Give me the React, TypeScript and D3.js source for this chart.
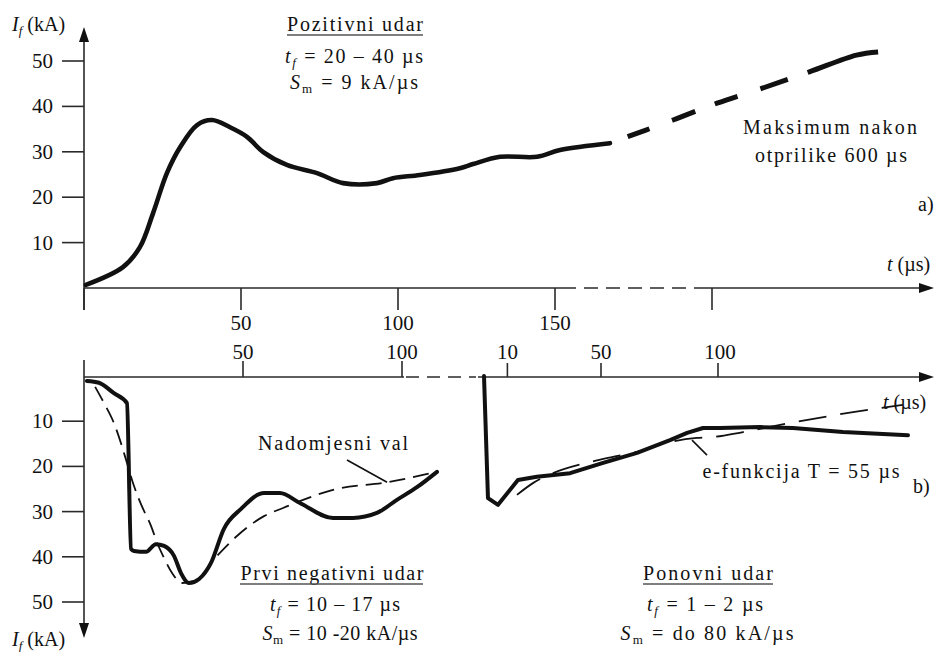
import React from "react";
import * as d3 from "d3";

// ---------- data ----------
// a) positive stroke (t in µs, I in kA)
const posT = [0.6, 12.4, 17.8, 22, 26.4, 30.6, 36, 40.8, 46.5, 51.9, 57, 64.6, 74.2, 82.5, 93.3, 98.4, 107, 119.7, 123.9, 132.5, 144.3, 151.6, 167.5];
const posV = [0.7, 4.6, 9, 16.5, 25.3, 31, 35.9, 37, 35.4, 33.3, 30, 27.1, 25.3, 23.1, 23.1, 24.2, 24.9, 26.4, 27.3, 28.9, 28.9, 30.4, 31.9];
const posDashT = [167.5, 187.6, 201.6, 216, 231, 246, 252.9];
const posDashV = [31.9, 37, 40.7, 44, 47.6, 51.3, 52];

// b) first negative stroke
const negT = [0.9, 4.7, 9.4, 13.5, 14.8, 15.7, 19.5, 22.6, 25.2, 28.3, 30.5, 33, 36.2, 39.9, 44, 49.4, 56.6, 61.6, 67.9, 78.3, 84.6, 92.1, 98.4, 104.7, 111];
const negV = [1.1, 1.5, 3.8, 6, 38.3, 38.7, 38.9, 37.2, 37.6, 39.8, 43.6, 45.8, 44.9, 41.4, 33.8, 29.4, 25.9, 25.9, 28.1, 31.4, 31.4, 30.3, 27.4, 24.6, 21.2];
const negEqT = [3.5, 6.3, 9.4, 11.6, 13.5, 15.7, 18.2, 21.1, 23, 25.2, 27.7, 30.8, 34.6, 41.8, 48.1, 56.6, 62.6, 68.9, 78.3, 95.3, 106.6, 111];
const negEqV = [2.4, 6, 10.4, 14.8, 19.2, 24.3, 28.8, 33.2, 36.9, 40.3, 43.6, 45.8, 45.4, 39.8, 35.4, 31, 29.2, 27.4, 25.2, 23.5, 21.9, 21.2];

// b) subsequent stroke
const subT = [0, 1.7, 6, 14.5, 22.6, 36.8, 50.9, 65.4, 79.5, 86.8, 93.6, 100.9, 118, 132, 153.4, 181.2];
const subV = [0, 27, 28.5, 23, 22.3, 21.5, 19.2, 17, 14.2, 12.6, 11.5, 11.5, 11.3, 11.5, 12.4, 13.1];
const subExpT = [14.1, 20.9, 29.5, 44, 55.1, 65.4, 79.5, 91, 97.9, 110.7, 130.8, 157.7, 179];
const subExpV = [26.3, 23.7, 21.5, 19.2, 17.9, 16.8, 14.6, 13.7, 13.5, 12.4, 10.4, 8, 6.4];

// ticks
const yTicks = [10, 20, 30, 40, 50];
const topTicks = [0, 50, 100, 150, 200];
const topTickLabels = ["", "50", "100", "150", ""];
const blTicks = [50, 100];
const brTicks = [10, 50, 100];

// annotation leaders (data units)
const nadLeaderT = [82.7, 95.3];
const nadLeaderV = [18.6, 23.5];
const expLeaderT = [88.9, 95.3];
const expLeaderV = [14.2, 17.5];

const FONT = "Liberation Serif";
const INK = "#111";
const AX = "#2a2a2a";

export default function App() {
  const xTop = d3.scaleLinear().domain([0, 150]).range([84, 555]);
  const yTop = d3.scaleLinear().domain([0, 50]).range([288, 61]);
  const xBL = d3.scaleLinear().domain([0, 100]).range([84, 402]);
  const yBot = d3.scaleLinear().domain([0, 50]).range([376, 602]);
  const xBR = d3.scaleLinear().domain([0, 100]).range([484, 718]);

  const mk = (ts: number[], vs: number[], xs: any, ys: any, curve: any = d3.curveMonotoneX) =>
    d3
      .line<[number, number]>()
      .x((d) => xs(d[0]))
      .y((d) => ys(d[1]))
      .curve(curve)(d3.zip(ts, vs) as [number, number][]) || "";

  const txt = { fontFamily: FONT, fontSize: 20, fill: INK } as const;
  const tk = { fontFamily: FONT, fontSize: 21, fill: INK } as const;

  const Tf = (rest: string) => (
    <>
      <tspan fontStyle="italic">t</tspan>
      <tspan fontSize={13} dy={4} fontStyle="italic">f</tspan>
      <tspan dy={-4}>{rest}</tspan>
    </>
  );
  const Sm = (rest: string) => (
    <>
      <tspan fontStyle="italic">S</tspan>
      <tspan fontSize={13} dy={4}>m</tspan>
      <tspan dy={-4}>{rest}</tspan>
    </>
  );

  return (
    <svg
      width={935}
      height={652}
      viewBox="0 0 935 652"
      style={{ position: "absolute", left: 0, top: 0, background: "#fff", display: "block" }}
    >
      <rect x={0} y={0} width={935} height={652} fill="#fff" />

      {/* ---------- top panel axes ---------- */}
      <line x1={84} y1={310} x2={84} y2={38} stroke={AX} strokeWidth={1.6} />
      <polygon points="84,27 79,42 89,42" fill={INK} />
      <line x1={84} y1={288} x2={562} y2={288} stroke={AX} strokeWidth={1.6} />
      <line x1={562} y1={288} x2={708} y2={288} stroke={AX} strokeWidth={1.6} strokeDasharray="14 8" />
      <line x1={708} y1={288} x2={922} y2={288} stroke={AX} strokeWidth={1.6} />
      <polygon points="934,288 919,283 919,293" fill={INK} />
      {topTicks.map((t, i) => (
        <g key={"tt" + i}>
          <line x1={xTop(t)} y1={288} x2={xTop(t)} y2={310} stroke={AX} strokeWidth={1.6} />
          {topTickLabels[i] && (
            <text x={xTop(t)} y={330} textAnchor="middle" {...tk}>
              {topTickLabels[i]}
            </text>
          )}
        </g>
      ))}
      {yTicks.map((v) => (
        <g key={"yt" + v}>
          <line x1={62} y1={yTop(v)} x2={84} y2={yTop(v)} stroke={AX} strokeWidth={1.6} />
          <text x={53} y={yTop(v) + 7} textAnchor="end" {...tk}>
            {v}
          </text>
        </g>
      ))}
      <text x={12} y={31} {...txt}>
        <tspan fontStyle="italic">I</tspan>
        <tspan fontSize={13} dy={4} fontStyle="italic">f</tspan>
        <tspan dy={-4}> (kA)</tspan>
      </text>
      <text x={887} y={271} {...txt}>
        <tspan fontStyle="italic">t</tspan>
        <tspan> (µs)</tspan>
      </text>

      {/* top curve */}
      <path d={mk(posT, posV, xTop, yTop, d3.curveCatmullRom)} fill="none" stroke={INK} strokeWidth={4.6} strokeLinejoin="round" strokeLinecap="round" />
      <path
        d={mk(posDashT, posDashV, xTop, yTop, d3.curveCatmullRom)}
        fill="none"
        stroke={INK}
        strokeWidth={5}
        strokeDasharray="0 19 23 24 25 21 24 24 29 21 80 10"
      />

      {/* top texts */}
      <text x={355} y={31} textAnchor="middle" textLength={136} lengthAdjust="spacing" {...txt}>
        Pozitivni udar
      </text>
      <line x1={287} y1={35} x2={423} y2={35} stroke="#555" strokeWidth={1.5} />
      <text x={354} y={63} textAnchor="middle" textLength={138} lengthAdjust="spacing" {...txt}>
        {Tf(" = 20 – 40 µs")}
      </text>
      <text x={354} y={89} textAnchor="middle" textLength={128} lengthAdjust="spacing" {...txt}>
        {Sm(" = 9 kA/µs")}
      </text>
      <text x={830} y={134} textAnchor="middle" textLength={174} lengthAdjust="spacing" {...txt}>
        Maksimum nakon
      </text>
      <text x={831} y={162} textAnchor="middle" textLength={152} lengthAdjust="spacing" {...txt}>
        otprilike 600 µs
      </text>
      <text x={918} y={211} {...txt}>
        a)
      </text>

      {/* ---------- bottom axes ---------- */}
      <line x1={84} y1={360} x2={84} y2={624} stroke={AX} strokeWidth={1.6} />
      <polygon points="84,638 79,623 89,623" fill={INK} />
      <line x1={84} y1={377} x2={404} y2={377} stroke={AX} strokeWidth={1.6} />
      <line x1={406} y1={377} x2={476} y2={377} stroke={AX} strokeWidth={1.6} strokeDasharray="13 8" />
      <line x1={478} y1={377} x2={922} y2={377} stroke={AX} strokeWidth={1.6} />
      <polygon points="934,377 919,372 919,382" fill={INK} />
      {blTicks.map((t) => (
        <g key={"bl" + t}>
          <line x1={xBL(t)} y1={361} x2={xBL(t)} y2={377} stroke={AX} strokeWidth={1.6} />
          <text x={xBL(t)} y={359} textAnchor="middle" {...tk}>
            {t}
          </text>
        </g>
      ))}
      {brTicks.map((t) => (
        <g key={"br" + t}>
          <line x1={xBR(t)} y1={363} x2={xBR(t)} y2={377} stroke={AX} strokeWidth={1.6} />
          <text x={xBR(t) + (t === 100 ? 2 : 0)} y={359} textAnchor="middle" {...tk}>
            {t}
          </text>
        </g>
      ))}
      {yTicks.map((v) => (
        <g key={"yb" + v}>
          <line x1={62} y1={yBot(v)} x2={84} y2={yBot(v)} stroke={AX} strokeWidth={1.6} />
          <text x={53} y={yBot(v) + 7} textAnchor="end" {...tk}>
            {v}
          </text>
        </g>
      ))}
      <text x={12} y={646} {...txt}>
        <tspan fontStyle="italic">I</tspan>
        <tspan fontSize={13} dy={4} fontStyle="italic">f</tspan>
        <tspan dy={-4}> (kA)</tspan>
      </text>
      <text x={883} y={409} {...txt}>
        <tspan fontStyle="italic">t</tspan>
        <tspan> (µs)</tspan>
      </text>
      <text x={913} y={493} {...txt}>
        b)
      </text>

      {/* bottom-left curves */}
      <path d={mk(negEqT, negEqV, xBL, yBot)} fill="none" stroke={INK} strokeWidth={1.8} strokeDasharray="16 8" />
      <path d={mk(negT, negV, xBL, yBot)} fill="none" stroke={INK} strokeWidth={4} strokeLinejoin="round" strokeLinecap="round" />
      <path d={mk(nadLeaderT, nadLeaderV, xBL, yBot, d3.curveLinear)} fill="none" stroke={INK} strokeWidth={1.6} />

      {/* bottom-right curves */}
      <path d={mk(subExpT, subExpV, xBR, yBot)} fill="none" stroke={INK} strokeWidth={1.8} strokeDasharray="28 14" />
      <path d={mk(subT, subV, xBR, yBot, d3.curveLinear)} fill="none" stroke={INK} strokeWidth={4} strokeLinejoin="round" strokeLinecap="round" />
      <path d={mk(expLeaderT, expLeaderV, xBR, yBot, d3.curveLinear)} fill="none" stroke={INK} strokeWidth={1.6} />

      {/* bottom texts */}
      <text x={333} y={450} textAnchor="middle" textLength={150} lengthAdjust="spacing" {...txt}>
        Nadomjesni val
      </text>
      <text x={801} y={478} textAnchor="middle" textLength={197} lengthAdjust="spacing" {...txt}>
        e-funkcija T = 55 µs
      </text>

      <text x={332} y={580} textAnchor="middle" textLength={183} lengthAdjust="spacing" {...txt}>
        Prvi negativni udar
      </text>
      <line x1={240} y1={584} x2={423} y2={584} stroke="#555" strokeWidth={1.5} />
      <text x={335} y={611} textAnchor="middle" textLength={130} lengthAdjust="spacing" {...txt}>
        {Tf(" = 10 – 17 µs")}
      </text>
      <text x={340} y={640} textAnchor="middle" textLength={155} lengthAdjust="spacing" {...txt}>
        {Sm(" = 10 -20 kA/µs")}
      </text>

      <text x={708} y={580} textAnchor="middle" textLength={130} lengthAdjust="spacing" {...txt}>
        Ponovni udar
      </text>
      <line x1={643} y1={584} x2={773} y2={584} stroke="#555" strokeWidth={1.5} />
      <text x={705} y={611} textAnchor="middle" textLength={116} lengthAdjust="spacing" {...txt}>
        {Tf(" = 1 – 2 µs")}
      </text>
      <text x={707} y={640} textAnchor="middle" textLength={173} lengthAdjust="spacing" {...txt}>
        {Sm(" =  do 80 kA/µs")}
      </text>
    </svg>
  );
}
